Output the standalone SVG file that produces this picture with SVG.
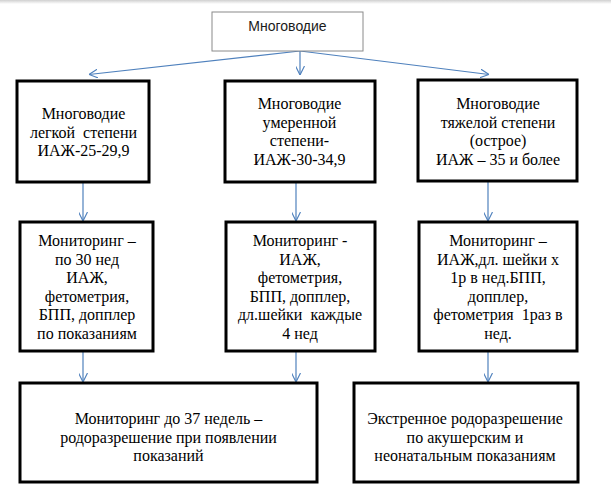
<svg xmlns="http://www.w3.org/2000/svg" width="611" height="494" viewBox="0 0 611 494">
  <defs>
    <style>
      .box { fill: #ffffff; stroke: #000000; stroke-width: 3; }
      .topbox { fill: #ffffff; stroke: #8a8a8a; stroke-width: 1; }
      .t { font-family: 'Liberation Serif', 'DejaVu Serif', serif; font-size: 16px; fill: #000000; text-anchor: middle; }
      .ts { font-family: 'Liberation Sans', Arial, sans-serif; font-size: 14px; fill: #1a1a1a; text-anchor: middle; }
      .c { stroke: #4f81bd; stroke-width: 1.2; fill: none; marker-end: url(#arr); }
    </style>
    <marker id="arr" viewBox="0 0 10 10" refX="10" refY="5" markerWidth="9" markerHeight="9" markerUnits="userSpaceOnUse" orient="auto">
      <path d="M0,0 L10,5 L0,10" fill="none" stroke="#4f81bd" stroke-width="1.3"/>
    </marker>
    <linearGradient id="shadow" x1="0" y1="0" x2="0" y2="1">
      <stop offset="0" stop-color="#d0d0d0"/>
      <stop offset="1" stop-color="#ffffff"/>
    </linearGradient>
  </defs>
  <rect x="0" y="0" width="611" height="494" fill="#ffffff"/>
  <rect x="0" y="0" width="611" height="4" fill="url(#shadow)"/>

  <g id="connectors">
    <line class="c" x1="300" y1="51" x2="89" y2="74.5"/>
    <line class="c" x1="300" y1="51" x2="300" y2="75"/>
    <line class="c" x1="300" y1="51" x2="489" y2="74.5"/>
    <line class="c" x1="83" y1="182" x2="83" y2="221"/>
    <line class="c" x1="296" y1="182" x2="296" y2="221"/>
    <line class="c" x1="488" y1="181" x2="488" y2="221"/>
    <line class="c" x1="83" y1="351" x2="83" y2="382"/>
    <line class="c" x1="296" y1="351" x2="296" y2="382"/>
    <line class="c" x1="488" y1="351" x2="488" y2="382"/>
  </g>

  <g id="node-top">
    <rect class="topbox" x="212" y="12" width="151" height="39"/>
    <text class="ts" x="287.5" y="31">Многоводие</text>
  </g>

  <g id="node-mild">
    <rect class="box" x="17" y="81" width="132" height="101"/>
    <text class="t" x="83.5" y="119">Многоводие</text>
    <text class="t" x="83.5" y="137.5" xml:space="preserve">легкой  степени</text>
    <text class="t" x="83.5" y="156">ИАЖ-25-29,9</text>
  </g>

  <g id="node-moderate">
    <rect class="box" x="225" y="81" width="150" height="101"/>
    <text class="t" x="299.5" y="109">Многоводие</text>
    <text class="t" x="299.5" y="127.5">умеренной</text>
    <text class="t" x="299.5" y="146">степени-</text>
    <text class="t" x="299.5" y="164.5">ИАЖ-30-34,9</text>
  </g>

  <g id="node-severe">
    <rect class="box" x="418" y="80" width="159" height="101"/>
    <text class="t" x="498" y="109">Многоводие</text>
    <text class="t" x="498" y="127.5">тяжелой степени</text>
    <text class="t" x="498" y="146">(острое)</text>
    <text class="t" x="498" y="164.5">ИАЖ – 35 и более</text>
  </g>

  <g id="node-monitor-mild">
    <rect class="box" x="20" y="222" width="133" height="129"/>
    <text class="t" x="87" y="246">Мониторинг –</text>
    <text class="t" x="87" y="264.5">по 30 нед</text>
    <text class="t" x="87" y="283">ИАЖ,</text>
    <text class="t" x="87" y="301.5">фетометрия,</text>
    <text class="t" x="87" y="320">БПП, допплер</text>
    <text class="t" x="87" y="338.5">по показаниям</text>
  </g>

  <g id="node-monitor-moderate">
    <rect class="box" x="226" y="222" width="149" height="129"/>
    <text class="t" x="300" y="246">Мониторинг -</text>
    <text class="t" x="300" y="264.5">ИАЖ,</text>
    <text class="t" x="300" y="283">фетометрия,</text>
    <text class="t" x="300" y="301.5">БПП, допплер,</text>
    <text class="t" x="300" y="320" xml:space="preserve">дл.шейки  каждые</text>
    <text class="t" x="300" y="338.5">4 нед</text>
  </g>

  <g id="node-monitor-severe">
    <rect class="box" x="419" y="222" width="158" height="129"/>
    <text class="t" x="498" y="246">Мониторинг –</text>
    <text class="t" x="498" y="264.5">ИАЖ,дл. шейки х</text>
    <text class="t" x="498" y="283">1р в нед.БПП,</text>
    <text class="t" x="498" y="301.5">допплер,</text>
    <text class="t" x="498" y="320" xml:space="preserve">фетометрия  1раз в</text>
    <text class="t" x="498" y="338.5">нед.</text>
  </g>

  <g id="node-outcome-1">
    <rect class="box" x="20" y="383" width="297" height="99"/>
    <text class="t" x="168.5" y="424">Мониторинг до 37 недель –</text>
    <text class="t" x="168.5" y="442.5">родоразрешение при появлении</text>
    <text class="t" x="168.5" y="461">показаний</text>
  </g>

  <g id="node-outcome-2">
    <rect class="box" x="354" y="383" width="224" height="99"/>
    <text class="t" x="465" y="424">Экстренное родоразрешение</text>
    <text class="t" x="465" y="442.5">по акушерским и</text>
    <text class="t" x="465" y="461">неонатальным показаниям</text>
  </g>
</svg>
